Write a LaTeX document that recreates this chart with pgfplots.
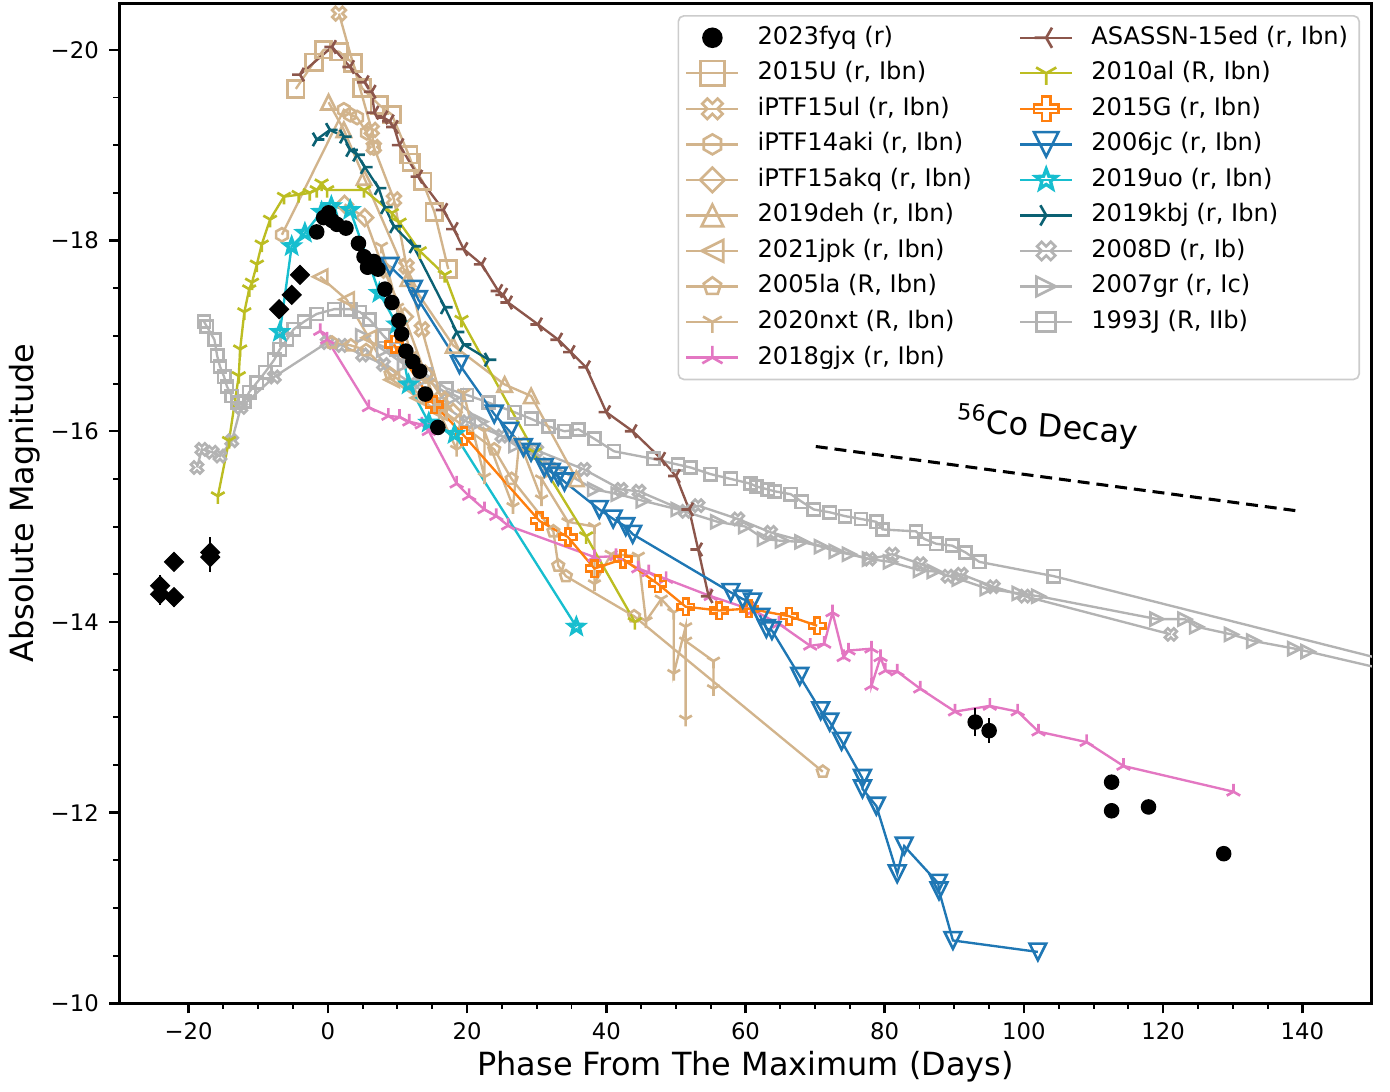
\documentclass[border=0pt]{standalone}
\usepackage{fontspec}
\setmainfont{DejaVu Sans}
\usepackage{pgfplots}
\pgfplotsset{compat=1.18}

\definecolor{ctan}{HTML}{D2B48C}
\definecolor{cbrown}{HTML}{8C564B}
\definecolor{colive}{HTML}{BCBD22}
\definecolor{corange}{HTML}{FF7F0E}
\definecolor{cblue}{HTML}{1F77B4}
\definecolor{ccyan}{HTML}{17BECF}
\definecolor{cteal}{HTML}{0B6173}
\definecolor{cpink}{HTML}{E377C2}
\definecolor{cgray}{HTML}{B3B3B3}

\pgfdeclareplotmark{mtu}{\pgfpathmoveto{\pgfqpoint{0pt}{\pgfplotmarksize}}\pgfpathlineto{\pgfqpoint{\pgfplotmarksize}{-\pgfplotmarksize}}\pgfpathlineto{\pgfqpoint{-\pgfplotmarksize}{-\pgfplotmarksize}}\pgfpathclose\pgfusepathqstroke}
\pgfdeclareplotmark{mtd}{\pgfpathmoveto{\pgfqpoint{0pt}{-\pgfplotmarksize}}\pgfpathlineto{\pgfqpoint{\pgfplotmarksize}{\pgfplotmarksize}}\pgfpathlineto{\pgfqpoint{-\pgfplotmarksize}{\pgfplotmarksize}}\pgfpathclose\pgfusepathqstroke}
\pgfdeclareplotmark{mtl}{\pgfpathmoveto{\pgfqpoint{-\pgfplotmarksize}{0pt}}\pgfpathlineto{\pgfqpoint{\pgfplotmarksize}{\pgfplotmarksize}}\pgfpathlineto{\pgfqpoint{\pgfplotmarksize}{-\pgfplotmarksize}}\pgfpathclose\pgfusepathqstroke}
\pgfdeclareplotmark{mtr}{\pgfpathmoveto{\pgfqpoint{\pgfplotmarksize}{0pt}}\pgfpathlineto{\pgfqpoint{-\pgfplotmarksize}{\pgfplotmarksize}}\pgfpathlineto{\pgfqpoint{-\pgfplotmarksize}{-\pgfplotmarksize}}\pgfpathclose\pgfusepathqstroke}
\pgfdeclareplotmark{mdia}{\pgfpathmoveto{\pgfqpoint{0pt}{\pgfplotmarksize}}\pgfpathlineto{\pgfqpoint{\pgfplotmarksize}{0pt}}\pgfpathlineto{\pgfqpoint{0pt}{-\pgfplotmarksize}}\pgfpathlineto{\pgfqpoint{-\pgfplotmarksize}{0pt}}\pgfpathclose\pgfusepathqstroke}
\pgfdeclareplotmark{mdiaf}{\pgfpathmoveto{\pgfqpoint{0pt}{\pgfplotmarksize}}\pgfpathlineto{\pgfqpoint{\pgfplotmarksize}{0pt}}\pgfpathlineto{\pgfqpoint{0pt}{-\pgfplotmarksize}}\pgfpathlineto{\pgfqpoint{-\pgfplotmarksize}{0pt}}\pgfpathclose\pgfusepathqfillstroke}
\pgfdeclareplotmark{lone}{%
 \pgfpathmoveto{\pgfpointorigin}\pgfpathlineto{\pgfqpoint{0pt}{-\pgfplotmarksize}}%
 \pgfpathmoveto{\pgfpointorigin}\pgfpathlineto{\pgfqpoint{-.866\pgfplotmarksize}{.5\pgfplotmarksize}}%
 \pgfpathmoveto{\pgfpointorigin}\pgfpathlineto{\pgfqpoint{.866\pgfplotmarksize}{.5\pgfplotmarksize}}%
 \pgfusepathqstroke}
\pgfdeclareplotmark{ltwo}{%
 \pgfpathmoveto{\pgfpointorigin}\pgfpathlineto{\pgfqpoint{0pt}{\pgfplotmarksize}}%
 \pgfpathmoveto{\pgfpointorigin}\pgfpathlineto{\pgfqpoint{-.866\pgfplotmarksize}{-.5\pgfplotmarksize}}%
 \pgfpathmoveto{\pgfpointorigin}\pgfpathlineto{\pgfqpoint{.866\pgfplotmarksize}{-.5\pgfplotmarksize}}%
 \pgfusepathqstroke}
\pgfdeclareplotmark{lthree}{%
 \pgfpathmoveto{\pgfpointorigin}\pgfpathlineto{\pgfqpoint{-\pgfplotmarksize}{0pt}}%
 \pgfpathmoveto{\pgfpointorigin}\pgfpathlineto{\pgfqpoint{.5\pgfplotmarksize}{.866\pgfplotmarksize}}%
 \pgfpathmoveto{\pgfpointorigin}\pgfpathlineto{\pgfqpoint{.5\pgfplotmarksize}{-.866\pgfplotmarksize}}%
 \pgfusepathqstroke}
\pgfdeclareplotmark{lfour}{%
 \pgfpathmoveto{\pgfpointorigin}\pgfpathlineto{\pgfqpoint{\pgfplotmarksize}{0pt}}%
 \pgfpathmoveto{\pgfpointorigin}\pgfpathlineto{\pgfqpoint{-.5\pgfplotmarksize}{.866\pgfplotmarksize}}%
 \pgfpathmoveto{\pgfpointorigin}\pgfpathlineto{\pgfqpoint{-.5\pgfplotmarksize}{-.866\pgfplotmarksize}}%
 \pgfusepathqstroke}
\pgfdeclareplotmark{mP}{%
 \pgfpathmoveto{\pgfqpoint{.333\pgfplotmarksize}{\pgfplotmarksize}}%
 \pgfpathlineto{\pgfqpoint{.333\pgfplotmarksize}{.333\pgfplotmarksize}}%
 \pgfpathlineto{\pgfqpoint{\pgfplotmarksize}{.333\pgfplotmarksize}}%
 \pgfpathlineto{\pgfqpoint{\pgfplotmarksize}{-.333\pgfplotmarksize}}%
 \pgfpathlineto{\pgfqpoint{.333\pgfplotmarksize}{-.333\pgfplotmarksize}}%
 \pgfpathlineto{\pgfqpoint{.333\pgfplotmarksize}{-\pgfplotmarksize}}%
 \pgfpathlineto{\pgfqpoint{-.333\pgfplotmarksize}{-\pgfplotmarksize}}%
 \pgfpathlineto{\pgfqpoint{-.333\pgfplotmarksize}{-.333\pgfplotmarksize}}%
 \pgfpathlineto{\pgfqpoint{-\pgfplotmarksize}{-.333\pgfplotmarksize}}%
 \pgfpathlineto{\pgfqpoint{-\pgfplotmarksize}{.333\pgfplotmarksize}}%
 \pgfpathlineto{\pgfqpoint{-.333\pgfplotmarksize}{.333\pgfplotmarksize}}%
 \pgfpathlineto{\pgfqpoint{-.333\pgfplotmarksize}{\pgfplotmarksize}}%
 \pgfpathclose\pgfusepathqstroke}
\pgfdeclareplotmark{mX}{\pgfscope\pgftransformrotate{45}\pgfuseplotmark{mP}\endpgfscope}
\pgfdeclareplotmark{mhex}{%
 \pgfpathmoveto{\pgfpointpolar{90}{\pgfplotmarksize}}%
 \pgfpathlineto{\pgfpointpolar{150}{\pgfplotmarksize}}%
 \pgfpathlineto{\pgfpointpolar{210}{\pgfplotmarksize}}%
 \pgfpathlineto{\pgfpointpolar{270}{\pgfplotmarksize}}%
 \pgfpathlineto{\pgfpointpolar{330}{\pgfplotmarksize}}%
 \pgfpathlineto{\pgfpointpolar{30}{\pgfplotmarksize}}%
 \pgfpathclose\pgfusepathqstroke}
\pgfdeclareplotmark{mpent}{%
 \pgfpathmoveto{\pgfpointpolar{90}{\pgfplotmarksize}}%
 \pgfpathlineto{\pgfpointpolar{162}{\pgfplotmarksize}}%
 \pgfpathlineto{\pgfpointpolar{234}{\pgfplotmarksize}}%
 \pgfpathlineto{\pgfpointpolar{306}{\pgfplotmarksize}}%
 \pgfpathlineto{\pgfpointpolar{18}{\pgfplotmarksize}}%
 \pgfpathclose\pgfusepathqstroke}
\pgfdeclareplotmark{mstar}{%
 \pgfpathmoveto{\pgfpointpolar{90}{\pgfplotmarksize}}%
 \pgfpathlineto{\pgfpointpolar{126}{.42\pgfplotmarksize}}%
 \pgfpathlineto{\pgfpointpolar{162}{\pgfplotmarksize}}%
 \pgfpathlineto{\pgfpointpolar{198}{.42\pgfplotmarksize}}%
 \pgfpathlineto{\pgfpointpolar{234}{\pgfplotmarksize}}%
 \pgfpathlineto{\pgfpointpolar{270}{.42\pgfplotmarksize}}%
 \pgfpathlineto{\pgfpointpolar{306}{\pgfplotmarksize}}%
 \pgfpathlineto{\pgfpointpolar{342}{.42\pgfplotmarksize}}%
 \pgfpathlineto{\pgfpointpolar{18}{\pgfplotmarksize}}%
 \pgfpathlineto{\pgfpointpolar{54}{.42\pgfplotmarksize}}%
 \pgfpathclose\pgfusepathqstroke}

\pgfplotsset{
 ser/.style={line width=0.85pt, sharp corners, mark options={solid, line width=0.95pt}},
 sU/.style={ser, color=ctan, mark=square, mark size=3pt},
 sUL/.style={ser, color=ctan, mark=mX, mark size=2.6pt},
 sAKI/.style={ser, color=ctan, mark=mhex, mark size=2.4pt},
 sAKQ/.style={ser, color=ctan, mark=mdia, mark size=3pt},
 sDEH/.style={ser, color=ctan, mark=mtu, mark size=2.6pt},
 sJPK/.style={ser, color=ctan, mark=mtl, mark size=2.6pt},
 sLA/.style={ser, color=ctan, mark=mpent, mark size=2.2pt},
 sNXT/.style={ser, color=ctan, mark=lone, mark size=2.6pt},
 sGJX/.style={ser, color=cpink, mark=ltwo, mark size=2.8pt},
 sAS/.style={ser, color=cbrown, mark=lthree, mark size=2.8pt},
 sAL/.style={ser, color=colive, mark=lone, mark size=2.8pt},
 sG/.style={ser, color=corange, mark=mP, mark size=3pt},
 sJC/.style={ser, color=cblue, mark=mtd, mark size=3pt},
 sUO/.style={ser, color=ccyan, mark=mstar, mark size=2.7pt, mark options={solid, line width=1.2pt}},
 sKBJ/.style={ser, color=cteal, mark=lfour, mark size=2.8pt},
 sD/.style={ser, color=cgray, mark=mX, mark size=2.3pt},
 sGR/.style={ser, color=cgray, mark=mtr, mark size=2.3pt},
 sJ/.style={ser, color=cgray, mark=square, mark size=2.2pt},
}

\begin{document}
\begin{tikzpicture}
\begin{axis}[
 scale only axis, width=451.4pt, height=360.4pt,
 xmin=-30, xmax=150, ymin=-20.49, ymax=-10, y dir=reverse,
 xtick={-20,0,...,140}, xticklabels={−20,0,20,40,60,80,100,120,140},
 ytick={-20,-18,...,-10}, yticklabels={−20,−18,−16,−14,−12,−10},
 minor x tick num=3, minor y tick num=3,
 tick align=outside, xtick pos=bottom, ytick pos=left,
 major tick length=3.6pt, minor tick length=2pt,
 every major tick/.style={line width=0.9pt, black},
 every minor tick/.style={line width=0.7pt, black},
 axis line style={line width=1.1pt},
 ticklabel style={font=\fontsize{8.2}{9.8}\selectfont},
 xticklabel style={anchor=north, inner sep=0pt, yshift=-3pt},
 yticklabel style={anchor=east, inner sep=0pt, xshift=-3.5pt},
 xlabel={Phase From The Maximum (Days)}, ylabel={Absolute Magnitude},
 label style={font=\fontsize{11.5}{13.8}\selectfont},
 xlabel style={at={(axis description cs:0.5,-0.063)}, anchor=center},
 ylabel style={at={(axis description cs:-0.0753,0.5)}, anchor=center},
 legend columns=2, legend cell align=left,
 legend image code/.code={\draw[mark repeat=2,mark phase=2,#1] plot coordinates {(0pt,0pt) (9.35pt,0pt) (18.7pt,0pt)};},
 legend style={at={(axis description cs:1,1)}, anchor=north east, xshift=-4.3pt, yshift=-4.3pt,
   draw=black!20, line width=0.6pt, rounded corners=2pt, fill=white,
   inner xsep=2.5pt, inner ysep=1.5pt, font=\fontsize{8.7}{10.4}\selectfont, row sep=0pt,
   nodes={inner xsep=1.5pt, inner ysep=1.75pt, text height=7pt, text depth=2.3pt},
   /tikz/every odd column/.append style={column sep=5pt},
   /tikz/every even column/.append style={column sep=15.5pt}},
]
\coordinate (SW) at (rel axis cs:0,0);
% legend (row-major order)
\addlegendimage{only marks, mark=*, black, mark size=3.4pt}\addlegendentry{2023fyq (r)}
\addlegendimage{sAS, mark size=4.2pt}\addlegendentry{ASASSN-15ed (r, Ibn)}
\addlegendimage{sU, mark size=4.4pt}\addlegendentry{2015U (r, Ibn)}
\addlegendimage{sAL, mark size=4.2pt}\addlegendentry{2010al (R, Ibn)}
\addlegendimage{sUL, mark size=3.9pt}\addlegendentry{iPTF15ul (r, Ibn)}
\addlegendimage{sG, mark size=4.4pt}\addlegendentry{2015G (r, Ibn)}
\addlegendimage{sAKI, mark size=3.6pt}\addlegendentry{iPTF14aki (r, Ibn)}
\addlegendimage{sJC, mark size=4.4pt}\addlegendentry{2006jc (r, Ibn)}
\addlegendimage{sAKQ, mark size=4.4pt}\addlegendentry{iPTF15akq (r, Ibn)}
\addlegendimage{sUO, mark size=3.9pt}\addlegendentry{2019uo (r, Ibn)}
\addlegendimage{sDEH, mark size=3.9pt}\addlegendentry{2019deh (r, Ibn)}
\addlegendimage{sKBJ, mark size=4.2pt}\addlegendentry{2019kbj (r, Ibn)}
\addlegendimage{sJPK, mark size=3.9pt}\addlegendentry{2021jpk (r, Ibn)}
\addlegendimage{sD, mark size=3.5pt}\addlegendentry{2008D (r, Ib)}
\addlegendimage{sLA, mark size=3.3pt}\addlegendentry{2005la (R, Ibn)}
\addlegendimage{sGR, mark size=3.5pt}\addlegendentry{2007gr (r, Ic)}
\addlegendimage{sNXT, mark size=3.9pt}\addlegendentry{2020nxt (R, Ibn)}
\addlegendimage{sJ, mark size=3.4pt}\addlegendentry{1993J (R, IIb)}
\addlegendimage{sGJX, mark size=4.2pt}\addlegendentry{2018gjx (r, Ibn)}

% gray comparison objects
\addplot[sJ, forget plot] coordinates {(-17.8,-17.15) (-17.4,-17.1) (-16.3,-16.96) (-15.9,-16.79) (-15.5,-16.68) (-14.9,-16.57) (-14.5,-16.47) (-13.8,-16.37) (-13.0,-16.3) (-12.0,-16.31) (-11.3,-16.41) (-10.2,-16.51) (-9.0,-16.62) (-7.7,-16.75) (-6.9,-16.86) (-5.9,-16.96) (-4.9,-17.07) (-3.4,-17.15) (-1.6,-17.23) (0.9,-17.28) (3.2,-17.28) (4.6,-17.25) (6.0,-17.17) (8.0,-17.0) (9.9,-16.86) (11.7,-16.75) (14.0,-16.6) (17.0,-16.45) (20.0,-16.38) (23.1,-16.3) (26.8,-16.2) (29.2,-16.13) (31.7,-16.05) (34.0,-16.0) (36.0,-16.02) (38.3,-15.92) (41.1,-15.79) (46.8,-15.71) (50.3,-15.65) (52.1,-15.62) (55.0,-15.55) (57.9,-15.5) (60.7,-15.45) (61.6,-15.42) (63.2,-15.39) (64.2,-15.37) (66.5,-15.34) (68.1,-15.26) (69.8,-15.18) (72.1,-15.15) (74.3,-15.11) (76.6,-15.08) (78.8,-15.05) (79.7,-14.97) (84.5,-14.95) (85.7,-14.87) (87.4,-14.82) (89.7,-14.8) (91.6,-14.73) (93.6,-14.63) (104.3,-14.48) (165,-13.36)};
\addplot[sD, forget plot] coordinates {(-18.8,-15.62) (-18.1,-15.81) (-16.6,-15.78) (-15.5,-15.74) (-13.8,-15.9) (-12.5,-16.25) (-7.7,-16.57) (-0.1,-16.93) (2,-16.9) (5,-16.8) (8,-16.7) (12,-16.5) (16,-16.3) (20,-16.1) (25,-15.95) (30,-15.8) (36.8,-15.6) (42.1,-15.39) (44.7,-15.37) (51.4,-15.16) (53.2,-15.22) (58.9,-15.08) (63.6,-14.94) (77.8,-14.66) (81.1,-14.71) (85.1,-14.61) (89.1,-14.48) (91.0,-14.5) (95.6,-14.37) (100.1,-14.27) (121.1,-13.87)};
\addplot[sGR, forget plot] coordinates {(5,-17.0) (8,-16.85) (11,-16.7) (14,-16.55) (18,-16.35) (22,-16.1) (27,-15.85) (32,-15.65) (38.3,-15.39) (41.7,-15.34) (45.3,-15.27) (50.3,-15.18) (56.0,-15.05) (60.0,-15.0) (62.7,-14.87) (65.3,-14.85) (68.1,-14.84) (70.9,-14.79) (73.0,-14.74) (74.9,-14.71) (77.8,-14.66) (80.8,-14.63) (85.1,-14.54) (87.1,-14.53) (90.7,-14.45) (94.7,-14.35) (99.3,-14.3) (102.1,-14.27) (119.1,-14.03) (123.1,-14.03) (124.8,-13.95) (129.8,-13.87) (133.0,-13.8) (138.9,-13.72) (140.8,-13.69) (165,-13.28)};

% tan Ibn objects
\addplot[sU, forget plot] coordinates {(-4.6,-19.59) (-2.0,-19.87) (-0.6,-20.0) (1.6,-19.98) (3.6,-19.86) (4.9,-19.60) (7.4,-19.42) (9.2,-19.32) (11.6,-18.90) (12.0,-18.82) (13.6,-18.62) (15.3,-18.30) (17.3,-17.70)};
\addplot[sUL, forget plot] coordinates {(1.6,-20.38) (6.3,-19.16) (6.6,-18.98) (9.5,-18.43) (11.3,-17.73) (13.5,-17.07) (16.3,-16.34)};
\addplot[sAKI, forget plot] coordinates {(-6.6,-18.06) (2.3,-19.37) (3.2,-19.32) (4.2,-19.29) (5.6,-19.13) (6.6,-18.97)};
\addplot[sAKQ, forget plot] coordinates {(2.4,-18.38) (5.3,-18.24) (8.0,-17.7) (11,-17.2) (14,-16.6) (18,-16.2)};
\addplot[sDEH, forget plot] coordinates {(0.1,-19.45) (2.3,-19.16) (5.2,-18.66) (11.5,-17.6) (18,-16.9) (25.4,-16.49) (29.2,-16.37) (35.7,-15.50)};
\addplot[sJPK, forget plot] coordinates {(-1.1,-17.62) (2.7,-17.38) (5.9,-16.98) (9.2,-16.54) (13,-16.35) (16,-16.2)};
\addplot[sLA, forget plot] coordinates {(0.6,-16.93) (3.3,-16.9) (5.5,-16.85) (9,-16.6) (15,-16.3) (23.9,-15.81) (26.4,-15.5) (32.4,-14.95) (33.1,-14.59) (34.2,-14.48) (44.0,-14.06) (71.1,-12.43)};
\addplot[sNXT, forget plot] coordinates {(7.7,-17.94) (10,-17.3) (12,-16.8) (14.5,-16.5) (16,-16.2) (18.5,-15.81) (19.5,-16.4) (22.5,-15.52) (22.5,-16.0) (26.6,-15.21) (27.5,-15.9) (30.7,-15.29) (30.7,-15.5) (34.5,-15.05) (38.3,-15.0) (38.3,-14.4) (40.7,-14.71) (44.6,-14.69) (45.7,-14.01) (47.9,-14.24) (49.7,-14.1) (49.7,-13.46) (51.4,-13.95) (51.4,-12.98) (51.4,-13.8) (55.4,-13.59) (55.4,-13.3)};

% coloured objects
\addplot[sGJX, forget plot] coordinates {(-1.1,-17.05) (-0.1,-16.96) (5.9,-16.25) (8.7,-16.16) (10.3,-16.15) (11.7,-16.1) (13.5,-16.07) (14.5,-16.0) (18.5,-15.45) (20.3,-15.32) (22.5,-15.18) (24.2,-15.11) (25.9,-15.01) (38.3,-14.68) (41.4,-14.69) (44.6,-14.56) (46.1,-14.52) (48.6,-14.45) (55.0,-14.27) (61.2,-14.12) (64.8,-13.98) (69.3,-13.75) (71.3,-13.77) (72.5,-14.10) (74.1,-13.63) (74.8,-13.70) (78.1,-13.72) (78.1,-13.33) (79.4,-13.63) (80.1,-13.49) (81.8,-13.48) (85.1,-13.30) (90.1,-13.06) (95.1,-13.12) (99.1,-13.06) (102.1,-12.85) (109.0,-12.74) (114.3,-12.49) (130.1,-12.22)};
\addplot[sAS, forget plot] coordinates {(-4.0,-19.74) (0.6,-20.03) (3.2,-19.82) (5.3,-19.66) (6.3,-19.56) (6.7,-19.34) (8.0,-19.29) (8.9,-19.25) (9.5,-19.19) (10.3,-19.0) (13.0,-18.67) (16.6,-18.32) (18.1,-18.12) (19.5,-17.91) (22.1,-17.75) (24.5,-17.47) (25.2,-17.43) (25.9,-17.35) (30.2,-17.12) (33.1,-16.96) (34.9,-16.83) (37.1,-16.67) (40.0,-16.2) (43.8,-16.0) (47.9,-15.71) (50.0,-15.53) (51.9,-15.18) (53.2,-14.76) (54.7,-14.27)};
\addplot[sAL, forget plot] coordinates {(-15.8,-15.32) (-14.2,-15.9) (-12.8,-16.58) (-12.6,-16.86) (-12.0,-17.25) (-11.3,-17.49) (-10.9,-17.56) (-10.2,-17.75) (-9.5,-17.96) (-8.3,-18.22) (-6.3,-18.46) (-4.2,-18.48) (-2.6,-18.5) (-1.6,-18.53) (-0.9,-18.6) (-0.1,-18.53) (5.2,-18.53) (9.2,-18.29) (10.3,-18.19) (13.2,-17.89) (16.8,-17.64) (19.2,-17.17) (29.7,-15.78) (37.1,-14.9) (44.1,-14.0)};
\addplot[sG, forget plot] coordinates {(9.5,-16.91) (15.3,-16.28) (19.6,-15.95) (30.4,-15.06) (34.5,-14.89) (38.3,-14.56) (42.4,-14.66) (47.4,-14.40) (51.4,-14.16) (56.2,-14.12) (60.5,-14.14) (66.3,-14.06) (70.3,-13.96)};
\addplot[sJC, forget plot] coordinates {(8.9,-17.73) (12.3,-17.49) (13.0,-17.38) (18.9,-16.7) (23.9,-16.18) (26.1,-16.0) (28.1,-15.83) (29.2,-15.78) (31.1,-15.62) (32.1,-15.57) (33.1,-15.53) (34.0,-15.47) (39.0,-15.18) (41.0,-15.08) (42.8,-15.0) (43.8,-14.92) (57.9,-14.31) (59.6,-14.24) (61.0,-14.21) (62.2,-14.05) (63.0,-13.93) (63.8,-13.91) (67.8,-13.43) (70.8,-13.07) (72.1,-12.95) (73.8,-12.75) (76.8,-12.36) (76.8,-12.25) (78.8,-12.07) (81.8,-11.36) (82.8,-11.65) (87.7,-11.26) (87.8,-11.18) (89.8,-10.66) (102.0,-10.54)};
\addplot[sUO, forget plot] coordinates {(-6.9,-17.04) (-5.2,-17.94) (-3.3,-18.08) (-0.9,-18.3) (0.5,-18.36) (3.2,-18.32) (7.4,-17.45) (9.9,-17.12) (11.6,-16.49) (14.5,-16.09) (18.2,-15.97) (35.7,-13.95)};
\addplot[sKBJ, forget plot] coordinates {(-1.6,-19.06) (0.3,-19.16) (2.3,-19.09) (3.2,-18.95) (4.2,-18.9) (5.3,-18.77) (7.3,-18.55) (8.2,-18.35) (9.5,-18.15) (12.3,-17.94) (16.8,-17.3) (18.5,-17.04) (19.5,-16.91) (23.1,-16.75)};

% 2023fyq
\addplot[only marks, mark=mdiaf, mark size=3.4pt, black, fill=black, forget plot,
  error bars/.cd, y dir=both, y explicit, error mark=none, error bar style={line width=0.9pt, black}]
  coordinates {(-24.1,-14.38) +- (0,0.11) (-24.1,-14.29) +- (0,0.11) (-22.1,-14.63) +- (0,0.03) (-22.1,-14.26) +- (0,0.1) (-16.9,-14.73) +- (0,0.16) (-16.9,-14.68) +- (0,0.16) (-7.0,-17.28) +- (0,0) (-5.2,-17.43) +- (0,0) (-4.0,-17.64) +- (0,0)};
\addplot[only marks, mark=*, mark size=2.6pt, black, fill=black, forget plot]
  coordinates {(-1.6,-18.09) (-0.6,-18.24) (0.1,-18.29) (0.6,-18.21) (1.3,-18.17) (2.6,-18.13) (4.4,-17.97) (5.2,-17.83) (5.7,-17.72) (6.6,-17.78) (7.2,-17.70) (8.2,-17.49) (9.2,-17.35) (10.2,-17.16) (10.6,-17.02) (11.2,-16.84) (12.2,-16.73) (13.2,-16.63) (14.0,-16.39) (15.8,-16.04) (112.6,-12.32) (112.6,-12.02) (117.9,-12.06) (128.7,-11.57)};
\addplot[only marks, mark=*, mark size=2.6pt, black, fill=black, forget plot,
  error bars/.cd, y dir=both, y explicit, error mark=none, error bar style={line width=0.9pt, black}]
  coordinates {(93.0,-12.95) +- (0,0.15) (95.0,-12.86) +- (0,0.13)};

% 56Co decay slope
\addplot[black, line width=1.1pt, dash pattern=on 4.3pt off 2.5pt, forget plot] coordinates {(70.1,-15.84) (139.8,-15.16)};
\node[rotate=-4, font=\fontsize{11.5}{13.8}\selectfont] at (axis cs:103.4,-16.05) {\textsuperscript{56}Co Decay};
\end{axis}
\path (SW) ++(-42.1pt,-30.6pt) rectangle ++(500pt,392.1pt);
\end{tikzpicture}
\end{document}
